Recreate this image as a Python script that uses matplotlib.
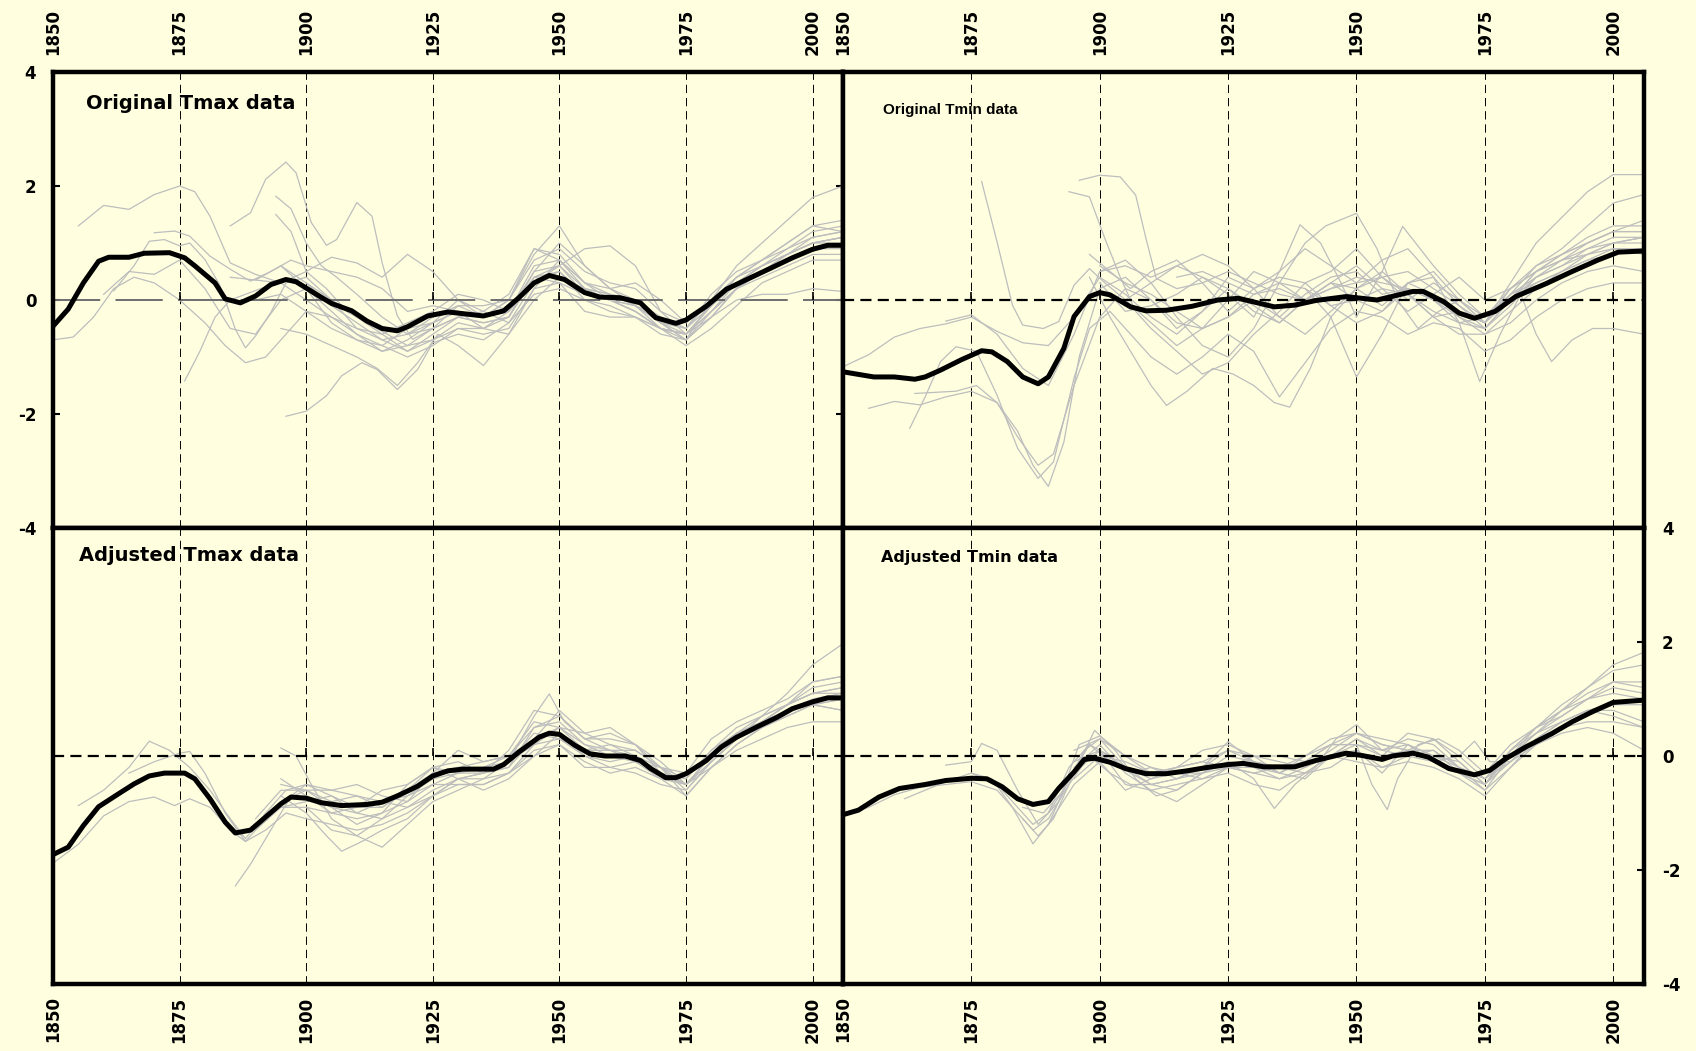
import matplotlib.pyplot as plt

plt.rcParams['lines.scale_dashes'] = False
plt.rcParams['font.family'] = 'DejaVu Sans'
plt.rcParams['font.weight'] = 'bold'

BG = '#FFFFE0'
GREY = '#BDBDBD'

year_ticks = [1850, 1875, 1900, 1925, 1950, 1975, 2000]
value_ticks = [-4, -2, 0, 2, 4]

# ---------------- Original Tmax ----------------
tmax_orig_years = [1850, 1853, 1856, 1859, 1861, 1865, 1868, 1873, 1876, 1878, 1882, 1884, 1887,
                   1890, 1893, 1896, 1898, 1902, 1905, 1909, 1912, 1915, 1918, 1920, 1924, 1928,
                   1931, 1935, 1939, 1942, 1945, 1948, 1951, 1955, 1958, 1962, 1966, 1969, 1973,
                   1975, 1979, 1983, 1987, 1992, 1996, 2000, 2003, 2006]
tmax_orig_mean = [-0.46, -0.16, 0.30, 0.68, 0.75, 0.75, 0.82, 0.83, 0.74, 0.60, 0.30, 0.02, -0.05,
                  0.07, 0.27, 0.36, 0.32, 0.10, -0.06, -0.19, -0.37, -0.50, -0.54, -0.47, -0.28, -0.21,
                  -0.24, -0.28, -0.19, 0.04, 0.30, 0.43, 0.36, 0.13, 0.05, 0.04, -0.05, -0.31, -0.41,
                  -0.35, -0.11, 0.19, 0.36, 0.57, 0.74, 0.89, 0.96, 0.96]
tmax_orig_stations = [
    ([1855, 1860, 1865, 1870, 1875, 1878, 1881, 1885, 1890, 1895],
     [1.30, 1.66, 1.59, 1.85, 2.00, 1.90, 1.47, 0.65, 0.45, 0.30]),
    ([1885, 1889, 1892, 1896, 1898, 1901, 1904, 1906, 1910, 1913, 1915, 1918, 1921, 1925, 1930, 1935,
      1940, 1945, 1950, 1955, 1960, 1965, 1970, 1975, 1980, 1985, 1990, 1995, 2000, 2006],
     [1.30, 1.53, 2.12, 2.42, 2.23, 1.36, 0.96, 1.06, 1.71, 1.47, 0.65, -0.28, -0.69, -0.5, -0.3, -0.2,
      0.1, 0.9, 0.8, 0.3, 0.2, -0.1, -0.5, -0.6, -0.1, 0.4, 0.7, 1.0, 1.3, 1.2]),
    ([1896, 1900, 1904, 1907, 1911, 1914, 1918, 1922, 1925, 1930, 1935, 1940, 1945, 1950, 1955, 1960,
      1965, 1970, 1975, 1980, 1985, 1990, 1995, 2000, 2006],
     [-2.04, -1.95, -1.68, -1.33, -1.10, -1.22, -1.57, -1.22, -0.75, -0.6, -0.7, -0.4, 0.3, 0.5, 0.0, -0.1,
      -0.3, -0.6, -0.7, -0.3, 0.2, 0.5, 0.8, 1.0, 1.1]),
    ([1850, 1854, 1858, 1862, 1866, 1870, 1875, 1880, 1884, 1888, 1892, 1896, 1900, 1905, 1910, 1915,
      1920, 1925, 1930, 1935, 1940, 1945, 1950, 1955, 1960, 1965, 1970, 1975, 1980, 1985, 1990, 1995,
      2000, 2006],
     [-0.70, -0.65, -0.3, 0.2, 0.4, 0.3, 0.0, -0.4, -0.8, -1.1, -1.0, -0.6, -0.2, -0.3, -0.6, -0.9,
      -0.8, -0.5, -0.3, -0.4, -0.3, 0.5, 0.6, 0.1, 0.0, -0.2, -0.5, -0.6, -0.2, 0.2, 0.5, 0.7,
      0.9, 1.0]),
    ([1862, 1866, 1869, 1872, 1875, 1877, 1880, 1883, 1886, 1888, 1890, 1893, 1896, 1900, 1905, 1910,
      1915, 1920, 1925, 1930, 1935, 1940, 1945, 1950, 1955, 1960, 1965, 1970, 1975, 1980, 1985, 1990,
      1995, 2000, 2006],
     [0.16, 0.6, 1.03, 1.06, 0.95, 1.0, 0.71, 0.25, -0.51, -0.84, -0.63, -0.22, 0.3, 0.4, 0.0, -0.3,
      -0.6, -0.9, -0.7, -0.4, -0.5, -0.2, 0.6, 0.7, 0.3, 0.1, -0.1, -0.4, -0.5, -0.1, 0.3, 0.6,
      0.8, 1.1, 1.2]),
    ([1870, 1874, 1877, 1881, 1885, 1889, 1893, 1897, 1900, 1905, 1910, 1915, 1920, 1925, 1930, 1935,
      1940, 1945, 1950, 1955, 1960, 1965, 1970, 1975, 1980, 1985, 1990, 1995, 2000, 2006],
     [1.18, 1.21, 1.12, 0.77, 0.54, 0.33, 0.5, 0.7, 0.6, 0.5, 0.4, 0.2, -0.2, -0.1, -0.2, -0.3,
      0.0, 0.7, 0.9, 0.5, 0.3, 0.2, -0.2, -0.4, 0.0, 0.4, 0.6, 0.9, 1.2, 1.3]),
    ([1876, 1879, 1882, 1885, 1888, 1891, 1895, 1900, 1905, 1910, 1915, 1920, 1925, 1930, 1935, 1940,
      1945, 1950, 1955, 1960, 1965, 1970, 1975, 1980, 1985, 1990, 1995, 2000, 2006],
     [-1.42, -0.9, -0.3, 0.0, 0.1, 0.2, 0.3, 0.0, -0.3, -0.5, -0.7, -0.6, -0.3, -0.1, -0.3, -0.2,
      0.4, 0.5, 0.1, 0.0, -0.1, -0.3, -0.5, 0.0, 0.3, 0.5, 0.7, 0.9, 0.9]),
    ([1894, 1897, 1900, 1903, 1906, 1910, 1915, 1920, 1925, 1930, 1935, 1940, 1945, 1950, 1955, 1960,
      1965, 1970, 1975, 1980, 1985, 1990, 1995, 2000, 2006],
     [1.82, 1.6, 1.0, 0.6, 0.4, 0.1, -0.3, -0.6, -0.5, -0.1, -0.1, 0.0, 0.8, 1.3, 0.6, 0.2,
      0.0, -0.3, -0.5, 0.1, 0.5, 0.7, 1.0, 1.3, 1.4]),
    ([1894, 1897, 1900, 1904, 1908, 1912, 1916, 1920, 1925, 1930, 1935, 1940, 1945, 1950, 1955, 1960,
      1965, 1970, 1975, 1980, 1985, 1990, 1995, 2000, 2006],
     [1.5, 1.2, 0.5, 0.2, -0.2, -0.4, -0.6, -0.8, -0.7, -0.5, -0.6, -0.5, 0.2, 0.7, 0.3, 0.0,
      -0.1, -0.4, -0.7, -0.2, 0.2, 0.5, 0.7, 0.9, 1.0]),
    ([1890, 1895, 1900, 1905, 1910, 1915, 1920, 1925, 1930, 1935, 1940, 1945, 1950, 1955, 1960, 1965,
      1970, 1975, 1980, 1985, 1990, 1995, 2000, 2006],
     [0.35, 0.3, 0.5, 0.75, 0.65, 0.4, 0.8, 0.5, 0.0, -0.3, -0.2, 0.3, 0.6, 0.9, 0.95, 0.6,
      -0.2, -0.6, -0.2, 0.3, 0.6, 0.8, 1.0, 1.1]),
    ([1895, 1900, 1905, 1910, 1914, 1918, 1922, 1926, 1930, 1935, 1940, 1945, 1950, 1955, 1960, 1965,
      1970, 1975, 1980, 1985, 1990, 1995, 2000, 2006],
     [-0.5, -0.6, -0.8, -1.0, -1.2, -1.5, -1.1, -0.6, -0.8, -1.15, -0.6, 0.2, 0.3, -0.2, -0.3, -0.3,
      -0.5, -0.6, -0.3, 0.0, 0.1, 0.1, 0.2, 0.15]),
    ([1860, 1865, 1870, 1875, 1880, 1885, 1890, 1895, 1900, 1905, 1910, 1915, 1920, 1925, 1930, 1935,
      1940, 1945, 1950, 1955, 1960, 1965, 1970, 1975, 1980, 1985, 1990, 1995, 2000, 2006],
     [0.1, 0.5, 0.45, 0.7, 0.2, -0.5, -0.6, 0.0, 0.2, -0.4, -0.7, -0.8, -0.5, -0.4, -0.2, -0.5,
      -0.3, 0.4, 0.3, 0.1, 0.0, -0.2, -0.5, -0.6, -0.1, 0.3, 0.5, 0.8, 1.0, 1.0]),
    ([1890, 1895, 1900, 1905, 1910, 1915, 1920, 1925, 1930, 1935, 1940, 1945, 1950, 1955, 1960, 1965,
      1970, 1975, 1980, 1985, 1990, 1995, 2000, 2006],
     [0.0, 0.1, -0.2, -0.5, -0.7, -0.9, -0.7, -0.4, 0.0, -0.2, -0.4, 0.1, 0.2, 0.0, -0.2, -0.3,
      -0.5, -0.8, -0.5, -0.1, 0.3, 0.5, 0.7, 0.7]),
    ([1900, 1905, 1910, 1915, 1920, 1925, 1930, 1935, 1940, 1945, 1950, 1955, 1960, 1965, 1970, 1975,
      1980, 1985, 1990, 1995, 2000, 2006],
     [0.3, 0.0, -0.5, -0.6, -0.4, -0.2, 0.1, 0.0, -0.2, 0.5, 1.0, 0.6, 0.2, 0.3, 0.0, -0.4,
      0.0, 0.4, 0.7, 0.9, 1.1, 1.2]),
    ([1920, 1925, 1930, 1935, 1940, 1945, 1950, 1955, 1960, 1965, 1970, 1975, 1980, 1985, 1990, 1995,
      2000, 2006],
     [-0.6, -0.4, -0.2, -0.3, 0.0, 0.9, 0.7, 0.2, 0.1, 0.0, -0.4, -0.7, 0.0, 0.6, 1.0, 1.4,
      1.8, 2.0]),
    ([1895, 1900, 1905, 1910, 1915, 1920, 1925, 1930, 1935, 1940, 1945, 1950, 1955, 1960, 1965, 1970,
      1975, 1980, 1985, 1990, 1995, 2000, 2006],
     [0.6, 0.3, -0.1, -0.4, -0.7, -0.9, -0.6, -0.3, -0.4, -0.3, 0.4, 0.6, 0.2, 0.1, 0.0, -0.4,
      -0.6, -0.1, 0.3, 0.6, 0.8, 1.0, 1.1]),
    ([1885, 1890, 1895, 1900, 1905, 1910, 1915, 1920, 1925, 1930, 1935, 1940, 1945, 1950, 1955, 1960,
      1965, 1970, 1975, 1980, 1985, 1990, 1995, 2000, 2006],
     [0.4, 0.35, 0.6, 0.2, -0.2, -0.6, -0.8, -1.0, -0.8, -0.5, -0.5, -0.6, 0.0, 0.4, 0.2, 0.0,
      -0.2, -0.5, -0.7, -0.3, 0.2, 0.4, 0.6, 0.8, 0.8]),
]

# ---------------- Original Tmin ----------------
tmin_orig_years = [1850, 1856, 1860, 1864, 1866, 1869, 1873, 1877, 1879, 1882, 1885, 1888, 1890,
                   1893, 1895, 1898, 1900, 1902, 1906, 1909, 1913, 1918, 1923, 1927, 1934, 1938,
                   1942, 1948, 1954, 1961, 1963, 1967, 1970, 1973, 1977, 1981, 1987, 1992, 1997,
                   2001, 2006]
tmin_orig_mean = [-1.26, -1.35, -1.35, -1.39, -1.35, -1.23, -1.05, -0.89, -0.91, -1.08, -1.35, -1.47, -1.35,
                  -0.85, -0.29, 0.06, 0.13, 0.09, -0.12, -0.19, -0.18, -0.11, 0.0, 0.03, -0.12, -0.09,
                  -0.01, 0.06, 0.0, 0.15, 0.15, -0.03, -0.23, -0.32, -0.20, 0.06, 0.29, 0.50, 0.70,
                  0.84, 0.86]
tmin_orig_stations = [
    ([1850, 1855, 1860, 1865, 1870, 1875, 1880, 1885, 1890, 1895, 1900, 1905, 1910, 1915, 1920, 1925,
      1930, 1935, 1940, 1945, 1950, 1955, 1960, 1965, 1970, 1975, 1980, 1985, 1990, 1995, 2000, 2006],
     [-1.17, -0.96, -0.65, -0.5, -0.42, -0.3, -0.55, -0.75, -0.8, -0.3, 0.4, 0.1, -0.3, -0.6, -0.2, 0.2,
      -0.1, -0.4, 0.0, 0.3, 0.2, -0.1, 0.3, 0.1, -0.3, -0.5, 0.0, 0.4, 0.7, 1.0, 1.2, 1.2]),
    ([1855, 1860, 1865, 1870, 1875, 1880, 1884, 1888, 1891, 1895, 1900, 1905, 1910, 1915, 1920, 1925,
      1930, 1935, 1940, 1945, 1950, 1955, 1960, 1965, 1970, 1975, 1980, 1985, 1990, 1995, 2000, 2006],
     [-1.9, -1.78, -1.84, -1.7, -1.6, -1.8, -2.4, -2.9, -2.7, -1.5, -0.3, 0.2, 0.0, -0.4, -0.5, -0.3,
      0.1, 0.3, 0.2, -0.1, 0.0, 0.2, 0.1, -0.2, -0.4, -0.5, 0.0, 0.5, 0.8, 1.1, 1.3, 1.3]),
    ([1877, 1880, 1883, 1885, 1889, 1892, 1895, 1898, 1901, 1905, 1910, 1915, 1920, 1925, 1930, 1935,
      1940, 1945, 1950, 1955, 1960, 1965, 1970, 1975, 1980, 1985, 1990, 1995, 2000, 2006],
     [2.08, 1.02, -0.09, -0.44, -0.5, -0.38, 0.26, 0.55, 0.3, 0.0, -0.4, -0.8, -0.5, 0.0, 0.5, 0.3,
      0.0, 0.3, 0.6, 0.2, -0.2, 0.1, 0.4, 0.0, 0.2, 0.5, 0.7, 0.8, 1.0, 1.1]),
    ([1894, 1898, 1901, 1904, 1907, 1910, 1915, 1920, 1925, 1930, 1935, 1940, 1945, 1950, 1955, 1960,
      1965, 1970, 1975, 1980, 1985, 1990, 1995, 2000, 2006],
     [1.90, 1.81, 1.08, 0.4, -0.2, -0.5, -0.9, -1.3, -1.1, -0.6, -0.2, 0.3, 0.5, 0.9, 0.4, 0.0,
      0.3, 0.0, -0.4, 0.2, 0.6, 0.8, 1.0, 1.2, 1.4]),
    ([1896, 1900, 1904, 1907, 1909, 1911, 1915, 1920, 1925, 1930, 1935, 1940, 1945, 1950, 1955, 1960,
      1965, 1970, 1975, 1980, 1985, 1990, 1995, 2000, 2006],
     [2.1, 2.19, 2.16, 1.84, 1.08, 0.38, 0.2, 0.3, 0.5, 0.3, 0.1, 0.0, 0.2, 0.4, 0.3, 0.2,
      0.0, -0.2, -0.4, 0.3, 1.0, 1.45, 1.9, 2.2, 2.2]),
    ([1863, 1866, 1869, 1872, 1876, 1880, 1884, 1888, 1891, 1895, 1898, 1902, 1906, 1910, 1915, 1920,
      1925, 1930, 1935, 1940, 1945, 1950, 1955, 1960, 1965, 1970, 1975, 1980, 1985, 1990, 1995, 2000,
      2006],
     [-2.25, -1.7, -1.08, -0.82, -0.9, -1.67, -2.6, -3.13, -2.84, -1.37, -0.5, -0.2, -0.6, -1.0, -1.3, -1.0,
      -0.6, -0.9, -1.7, -1.1, -0.5, -0.2, -0.3, -0.6, -0.4, -0.5, -0.9, -0.7, -0.3, 0.0, 0.2, 0.3,
      0.3]),
    ([1864, 1868, 1872, 1876, 1880, 1884, 1887, 1890, 1893, 1896, 1900, 1905, 1910, 1915, 1920, 1925,
      1930, 1935, 1940, 1945, 1950, 1955, 1960, 1965, 1970, 1975, 1980, 1985, 1990, 1995, 2000, 2006],
     [-1.64, -1.62, -1.6, -1.5, -1.8, -2.3, -2.9, -3.27, -2.5, -1.0, 0.2, 0.4, 0.0, -0.5, -0.2, 0.4,
      0.2, -0.3, 0.1, 0.4, 0.5, 0.1, 0.2, 0.0, -0.3, -0.6, -0.2, 0.2, 0.5, 0.8, 0.9, 0.8]),
    ([1870, 1875, 1880, 1885, 1890, 1895, 1900, 1905, 1910, 1915, 1920, 1925, 1930, 1935, 1940, 1945,
      1950, 1955, 1960, 1965, 1970, 1975, 1980, 1985, 1990, 1995, 2000, 2006],
     [-0.37, -0.26, -0.6, -1.2, -1.5, -0.6, 0.5, 0.6, 0.4, 0.6, 0.8, 0.6, 0.2, 0.5, 0.9, 0.6,
      0.3, 0.7, 0.9, 0.4, -0.1, -0.5, -0.1, 0.4, 0.6, 0.8, 1.0, 1.0]),
    ([1898, 1902, 1906, 1910, 1913, 1917, 1922, 1926, 1930, 1934, 1937, 1941, 1945, 1950, 1955, 1960,
      1965, 1970, 1975, 1980, 1985, 1990, 1995, 2000, 2006],
     [0.4, -0.3, -0.9, -1.5, -1.85, -1.6, -1.2, -1.3, -1.5, -1.8, -1.88, -1.2, -0.3, 0.2, 0.5, 0.1,
      -0.3, -0.6, -0.6, -0.4, 0.0, 0.3, 0.5, 0.6, 0.5]),
    ([1900, 1905, 1910, 1915, 1920, 1925, 1930, 1935, 1940, 1944, 1950, 1954, 1958, 1962, 1966, 1970,
      1975, 1980, 1985, 1990, 1995, 2000, 2006],
     [0.5, 0.7, 0.3, -0.3, -0.8, -1.0, -0.5, 0.3, 1.0, 1.3, 1.52, 0.9, 0.0, -0.5, -0.2, 0.0,
      -0.3, 0.0, 0.3, 0.5, 0.7, 0.9, 0.9]),
    ([1905, 1910, 1915, 1920, 1925, 1930, 1935, 1939, 1943, 1947, 1950, 1955, 1959, 1965, 1970, 1975,
      1980, 1985, 1990, 1995, 2000, 2006],
     [0.0, 0.3, 0.6, 0.4, 0.1, -0.3, 0.5, 1.32, 1.0, 0.3, -0.3, 0.5, 1.29, 0.6, 0.1, -0.3,
      0.2, 0.5, 0.7, 0.9, 1.1, 1.1]),
    ([1940, 1945, 1950, 1955, 1960, 1965, 1970, 1974, 1978, 1982, 1985, 1988, 1992, 1996, 2000, 2006],
     [0.2, -0.3, -1.35, -0.6, 0.3, 0.4, -0.4, -1.43, -0.6, 0.1, -0.6, -1.08, -0.7, -0.5, -0.5, -0.6]),
    ([1915, 1920, 1925, 1930, 1935, 1940, 1945, 1950, 1955, 1960, 1965, 1970, 1975, 1980, 1985, 1990,
      1995, 2000, 2006],
     [0.4, 0.5, 0.3, 0.1, 0.2, 0.0, 0.2, 0.3, 0.4, 0.5, 0.2, -0.1, -0.4, 0.1, 0.6, 0.9,
      1.3, 1.7, 1.85]),
    ([1900, 1905, 1910, 1915, 1920, 1925, 1930, 1935, 1940, 1945, 1950, 1955, 1960, 1965, 1970, 1975,
      1980, 1985, 1990, 1995, 2000, 2006],
     [0.3, -0.2, -0.1, 0.1, 0.4, 0.2, -0.2, -0.4, 0.0, 0.3, 0.0, -0.2, 0.2, 0.0, -0.4, -0.3,
      0.1, 0.3, 0.5, 0.7, 0.8, 0.9]),
    ([1900, 1905, 1910, 1915, 1920, 1925, 1930, 1935, 1940, 1945, 1950, 1955, 1960, 1965, 1970, 1975,
      1980, 1985, 1990, 1995, 2000, 2006],
     [0.6, 0.3, 0.1, -0.2, -0.5, -0.3, 0.0, -0.3, -0.6, -0.2, 0.2, 0.4, 0.1, -0.3, -0.2, -0.4,
      0.0, 0.5, 0.8, 1.0, 1.2, 1.2]),
    ([1898, 1902, 1906, 1910, 1915, 1920, 1925, 1930, 1935, 1940, 1945, 1950, 1955, 1960, 1965, 1970,
      1975, 1980, 1985, 1990, 1995, 2000, 2006],
     [0.8, 0.5, 0.2, 0.5, 0.7, 0.3, -0.2, 0.2, 0.4, 0.3, -0.1, -0.4, -0.2, 0.3, 0.5, 0.0,
      -0.4, 0.1, 0.4, 0.6, 0.9, 1.0, 1.1]),
]

# ---------------- Adjusted Tmax ----------------
tmax_adj_years = [1850, 1853, 1856, 1859, 1863, 1866, 1869, 1872, 1876, 1878, 1881, 1884, 1886,
                  1889, 1892, 1895, 1897, 1900, 1903, 1907, 1912, 1915, 1918, 1922, 1925, 1928,
                  1931, 1937, 1939, 1942, 1946, 1948, 1950, 1953, 1956, 1959, 1963, 1966, 1968,
                  1971, 1973, 1975, 1979, 1982, 1985, 1989, 1993, 1996, 2000, 2003, 2006]
tmax_adj_mean = [-1.73, -1.60, -1.22, -0.89, -0.66, -0.49, -0.35, -0.30, -0.30, -0.40, -0.75, -1.16, -1.35,
                 -1.30, -1.07, -0.84, -0.72, -0.74, -0.82, -0.87, -0.85, -0.81, -0.70, -0.53, -0.35, -0.26,
                 -0.23, -0.23, -0.15, 0.07, 0.33, 0.40, 0.38, 0.19, 0.04, 0.0, 0.0, -0.08, -0.22,
                 -0.38, -0.38, -0.31, -0.08, 0.16, 0.33, 0.51, 0.68, 0.83, 0.95, 1.02, 1.02]
tmax_adj_stations = [
    ([1850, 1855, 1860, 1865, 1870, 1874, 1877, 1881, 1885, 1888, 1892, 1896, 1900, 1905, 1910, 1915,
      1920, 1925, 1930, 1935, 1940, 1945, 1950, 1955, 1960, 1965, 1970, 1975, 1980, 1985, 1990, 1995,
      2000, 2006],
     [-1.88, -1.55, -1.05, -0.8, -0.72, -0.87, -0.75, -0.9, -1.3, -1.5, -1.3, -1.0, -1.1, -1.2, -1.3, -1.2,
      -1.0, -0.7, -0.5, -0.5, -0.3, 0.0, 0.2, -0.1, -0.3, -0.2, -0.4, -0.5, -0.2, 0.1, 0.3, 0.5,
      0.6, 0.6]),
    ([1855, 1860, 1865, 1869, 1873, 1877, 1881, 1885, 1888, 1892, 1896, 1900, 1905, 1910, 1915, 1920,
      1925, 1930, 1935, 1940, 1945, 1950, 1955, 1960, 1965, 1970, 1975, 1980, 1985, 1990, 1995, 2000,
      2006],
     [-0.87, -0.6, -0.2, 0.26, 0.1, -0.2, -0.6, -1.1, -1.45, -1.0, -0.6, -0.5, -0.7, -0.9, -0.9, -0.6,
      -0.3, -0.2, -0.1, 0.0, 0.6, 0.5, 0.1, 0.2, 0.0, -0.3, -0.5, 0.0, 0.4, 0.6, 0.9, 1.3,
      1.4]),
    ([1865, 1870, 1875, 1877, 1880, 1884, 1888, 1891, 1895, 1900, 1905, 1910, 1915, 1920, 1925, 1930,
      1935, 1940, 1945, 1950, 1955, 1960, 1965, 1970, 1975, 1980, 1985, 1990, 1995, 2000, 2006],
     [-0.3, -0.1, 0.05, 0.08, -0.3, -1.0, -1.5, -1.2, -0.8, -0.6, -0.9, -1.2, -1.0, -0.5, -0.2, -0.4,
      -0.3, 0.1, 0.8, 0.7, 0.3, 0.1, 0.1, -0.2, -0.6, -0.1, 0.3, 0.6, 0.9, 1.2, 1.3]),
    ([1886, 1889, 1893, 1897, 1900, 1905, 1910, 1915, 1920, 1925, 1930, 1935, 1940, 1945, 1950, 1955,
      1960, 1965, 1970, 1975, 1980, 1985, 1990, 1995, 2000, 2006],
     [-2.28, -1.9, -1.3, -0.7, -0.5, -0.6, -0.7, -0.8, -0.9, -0.7, -0.4, -0.3, -0.2, 0.5, 0.6, 0.2,
      0.1, 0.0, -0.3, -0.5, -0.1, 0.3, 0.7, 1.1, 1.6, 1.97]),
    ([1895, 1898, 1901, 1905, 1910, 1915, 1920, 1925, 1930, 1935, 1940, 1945, 1948, 1951, 1955, 1960,
      1965, 1970, 1975, 1980, 1985, 1990, 1995, 2000, 2006],
     [0.14, 0.0, -0.5, -1.1, -1.4, -1.6, -1.2, -0.8, -0.6, -0.4, -0.1, 0.7, 1.09, 0.6, 0.3, 0.4,
      0.2, -0.2, -0.7, -0.2, 0.2, 0.5, 0.7, 0.9, 1.0]),
    ([1895, 1900, 1904, 1907, 1911, 1915, 1920, 1925, 1930, 1935, 1940, 1945, 1950, 1955, 1960, 1965,
      1970, 1975, 1980, 1985, 1990, 1995, 2000, 2006],
     [-0.7, -1.0, -1.4, -1.67, -1.5, -1.3, -1.1, -0.7, -0.4, -0.4, -0.3, 0.2, 0.3, 0.0, -0.2, -0.3,
      -0.5, -0.6, -0.1, 0.3, 0.6, 0.9, 1.1, 1.2]),
    ([1890, 1895, 1900, 1905, 1910, 1915, 1920, 1925, 1930, 1935, 1940, 1945, 1950, 1955, 1960, 1965,
      1970, 1975, 1980, 1985, 1990, 1995, 2000, 2006],
     [-1.1, -0.6, -0.6, -0.8, -0.7, -0.9, -0.6, -0.2, -0.1, -0.3, -0.2, 0.3, 0.5, 0.4, 0.5, 0.2,
      -0.3, -0.4, 0.1, 0.4, 0.6, 0.8, 0.9, 0.8]),
    ([1890, 1895, 1900, 1905, 1910, 1915, 1920, 1925, 1930, 1935, 1940, 1945, 1950, 1955, 1960, 1965,
      1970, 1975, 1980, 1985, 1990, 1995, 2000, 2006],
     [-1.3, -0.9, -0.9, -1.0, -1.1, -1.0, -0.8, -0.5, -0.5, -0.5, -0.3, 0.1, 0.2, -0.2, -0.2, -0.1,
      -0.4, -0.7, -0.2, 0.2, 0.5, 0.8, 1.0, 1.1]),
    ([1895, 1900, 1905, 1910, 1915, 1920, 1925, 1930, 1935, 1940, 1945, 1950, 1955, 1960, 1965, 1970,
      1975, 1980, 1985, 1990, 1995, 2000, 2006],
     [-0.5, -0.6, -0.6, -0.5, -0.7, -0.8, -0.3, 0.1, -0.1, 0.0, 0.3, 0.8, 0.4, 0.2, 0.1, -0.2,
      -0.3, 0.3, 0.6, 0.8, 1.0, 1.3, 1.4]),
    ([1900, 1905, 1910, 1915, 1920, 1925, 1930, 1935, 1940, 1945, 1950, 1955, 1960, 1965, 1970, 1975,
      1980, 1985, 1990, 1995, 2000, 2006],
     [-0.9, -1.3, -1.4, -1.1, -0.9, -0.6, -0.4, -0.6, -0.4, 0.0, 0.4, 0.0, -0.1, 0.0, -0.2, -0.4,
      0.1, 0.5, 0.7, 0.9, 1.1, 1.1]),
    ([1900, 1905, 1910, 1915, 1920, 1925, 1930, 1935, 1940, 1945, 1950, 1955, 1960, 1965, 1970, 1975,
      1980, 1985, 1990, 1995, 2000, 2006],
     [-0.7, -0.9, -1.0, -0.8, -0.7, -0.4, -0.3, -0.2, -0.1, 0.4, 0.3, 0.1, 0.1, -0.1, -0.3, -0.5,
      0.0, 0.3, 0.6, 0.8, 0.9, 0.8]),
    ([1895, 1900, 1905, 1910, 1915, 1920, 1925, 1930, 1935, 1940, 1945, 1950, 1955, 1960, 1965, 1970,
      1975, 1980, 1985, 1990, 1995, 2000, 2006],
     [-0.4, -0.7, -1.0, -0.9, -0.6, -0.5, -0.2, -0.3, -0.2, 0.0, 0.5, 0.7, 0.3, 0.3, 0.2, -0.1,
      -0.5, 0.0, 0.4, 0.7, 0.9, 1.1, 1.2]),
    ([1895, 1900, 1905, 1910, 1915, 1920, 1925, 1930, 1935, 1940, 1945, 1950, 1955, 1960, 1965, 1970,
      1975, 1980, 1985, 1990, 1995, 2000, 2006],
     [-0.9, -0.8, -0.7, -1.0, -1.1, -0.7, -0.5, -0.3, -0.3, -0.1, 0.2, 0.5, 0.2, 0.0, -0.1, -0.2,
      -0.5, -0.1, 0.3, 0.5, 0.7, 0.9, 1.0]),
]

# ---------------- Adjusted Tmin ----------------
tmin_adj_years = [1850, 1853, 1857, 1861, 1866, 1870, 1875, 1878, 1881, 1884, 1887, 1890, 1892,
                  1895, 1897, 1899, 1902, 1905, 1909, 1913, 1917, 1921, 1925, 1928, 1932, 1938,
                  1942, 1948, 1951, 1955, 1957, 1961, 1964, 1968, 1973, 1976, 1979, 1983, 1988,
                  1992, 1996, 2000, 2006]
tmin_adj_mean = [-1.03, -0.95, -0.72, -0.57, -0.50, -0.43, -0.39, -0.40, -0.54, -0.75, -0.85, -0.80, -0.57,
                 -0.28, -0.06, -0.04, -0.11, -0.22, -0.31, -0.31, -0.26, -0.20, -0.15, -0.13, -0.19, -0.19,
                 -0.08, 0.05, 0.01, -0.06, 0.0, 0.05, -0.02, -0.22, -0.33, -0.25, -0.05, 0.16, 0.39,
                 0.60, 0.78, 0.94, 0.98]
tmin_adj_stations = [
    ([1850, 1855, 1860, 1865, 1870, 1875, 1880, 1884, 1887, 1890, 1894, 1898, 1902, 1906, 1910, 1915,
      1920, 1925, 1930, 1935, 1940, 1945, 1950, 1955, 1960, 1965, 1970, 1975, 1980, 1985, 1990, 1995,
      2000, 2006],
     [-1.05, -0.9, -0.68, -0.55, -0.5, -0.45, -0.6, -1.0, -1.3, -1.1, -0.5, 0.0, -0.3, -0.5, -0.5, -0.4,
      -0.3, -0.2, -0.3, -0.4, -0.2, 0.0, -0.1, -0.2, 0.0, -0.1, -0.3, -0.5, -0.1, 0.3, 0.6, 0.8,
      0.9, 0.9]),
    ([1862, 1866, 1870, 1875, 1879, 1883, 1887, 1890, 1894, 1898, 1902, 1906, 1910, 1915, 1920, 1925,
      1930, 1934, 1938, 1942, 1946, 1950, 1955, 1960, 1965, 1970, 1975, 1980, 1985, 1990, 1995, 2000,
      2006],
     [-0.75, -0.6, -0.45, -0.3, -0.4, -0.9, -1.54, -1.2, -0.4, 0.2, 0.0, -0.3, -0.5, -0.6, -0.3, -0.1,
      -0.4, -0.92, -0.5, -0.2, 0.3, 0.55, 0.1, 0.2, 0.0, -0.2, -0.6, 0.0, 0.4, 0.8, 1.2, 1.6,
      1.82]),
    ([1870, 1875, 1877, 1880, 1884, 1888, 1892, 1896, 1900, 1905, 1910, 1915, 1920, 1925, 1930, 1935,
      1940, 1945, 1950, 1953, 1956, 1958, 1962, 1966, 1970, 1975, 1980, 1985, 1990, 1995, 2000, 2006],
     [-0.16, -0.1, 0.22, 0.1, -0.6, -1.2, -0.8, 0.2, 0.35, 0.0, -0.3, -0.2, 0.1, 0.2, 0.0, -0.3,
      0.0, 0.2, 0.2, -0.5, -0.94, -0.4, 0.2, 0.3, 0.1, -0.3, 0.2, 0.5, 0.7, 1.0, 1.3, 1.3]),
    ([1875, 1880, 1884, 1887, 1890, 1894, 1898, 1902, 1906, 1910, 1915, 1920, 1925, 1930, 1935, 1940,
      1945, 1950, 1955, 1960, 1965, 1970, 1975, 1980, 1985, 1990, 1995, 2000, 2006],
     [-0.3, -0.5, -0.9, -1.2, -1.0, -0.2, 0.2, -0.1, -0.3, -0.2, -0.3, -0.4, -0.2, -0.3, -0.2, -0.1,
      0.2, 0.4, 0.2, 0.1, 0.3, 0.0, -0.4, 0.0, 0.4, 0.7, 1.0, 1.2, 1.1]),
    ([1885, 1888, 1891, 1895, 1899, 1903, 1907, 1911, 1915, 1920, 1925, 1930, 1935, 1940, 1945, 1950,
      1955, 1960, 1965, 1970, 1975, 1980, 1985, 1990, 1995, 2000, 2006],
     [-1.1, -1.4, -1.1, -0.3, 0.45, 0.1, -0.4, -0.7, -0.6, -0.3, 0.0, -0.1, -0.3, -0.4, 0.0, 0.3,
      0.0, 0.4, 0.3, -0.1, -0.5, 0.0, 0.5, 0.8, 1.0, 1.1, 1.0]),
    ([1885, 1889, 1893, 1897, 1900, 1905, 1910, 1915, 1920, 1925, 1930, 1935, 1940, 1945, 1950, 1955,
      1960, 1965, 1970, 1975, 1980, 1985, 1990, 1995, 2000, 2006],
     [-0.9, -1.0, -0.6, 0.1, 0.3, -0.2, -0.5, -0.4, -0.2, 0.25, -0.1, -0.2, -0.3, -0.2, 0.1, -0.3,
      0.2, -0.1, -0.3, -0.5, 0.1, 0.4, 0.6, 0.8, 0.8, 0.6]),
    ([1895, 1900, 1905, 1910, 1915, 1920, 1925, 1930, 1935, 1940, 1945, 1950, 1955, 1960, 1965, 1970,
      1973, 1976, 1980, 1985, 1990, 1995, 2000, 2006],
     [-0.2, 0.2, -0.3, -0.6, -0.8, -0.5, -0.2, 0.0, -0.1, -0.2, 0.1, 0.4, 0.2, 0.1, -0.1, 0.0,
      0.26, -0.1, -0.1, 0.3, 0.5, 0.7, 0.9, 1.0]),
    ([1895, 1900, 1905, 1910, 1915, 1920, 1925, 1930, 1935, 1940, 1945, 1950, 1955, 1960, 1965, 1970,
      1975, 1980, 1985, 1990, 1995, 2000, 2006],
     [-0.1, 0.1, -0.5, -0.6, -0.5, -0.4, -0.3, -0.5, -0.6, -0.3, 0.0, 0.1, -0.2, -0.1, -0.2, -0.4,
      -0.7, -0.2, 0.2, 0.5, 0.6, 0.6, 0.5]),
    ([1890, 1895, 1900, 1905, 1910, 1915, 1920, 1925, 1930, 1935, 1940, 1945, 1950, 1955, 1960, 1965,
      1970, 1975, 1980, 1985, 1990, 1995, 2000, 2006],
     [-1.2, -0.5, -0.1, -0.6, -0.4, -0.2, -0.1, 0.1, 0.0, 0.0, -0.1, 0.0, 0.3, 0.1, 0.3, 0.2,
      -0.2, -0.4, 0.1, 0.5, 0.9, 1.2, 1.5, 1.6]),
    ([1895, 1900, 1905, 1910, 1915, 1920, 1925, 1930, 1935, 1940, 1945, 1950, 1955, 1960, 1965, 1970,
      1975, 1980, 1985, 1990, 1995, 2000, 2006],
     [-0.4, 0.0, -0.1, -0.3, -0.2, -0.1, -0.2, -0.2, -0.3, -0.1, 0.2, 0.2, 0.0, 0.1, 0.1, -0.2,
      -0.4, -0.1, 0.2, 0.4, 0.5, 0.4, 0.1]),
    ([1895, 1900, 1905, 1910, 1915, 1920, 1925, 1930, 1935, 1940, 1945, 1950, 1955, 1960, 1965, 1970,
      1975, 1980, 1985, 1990, 1995, 2000, 2006],
     [0.1, 0.3, 0.0, -0.2, -0.4, -0.2, 0.1, -0.1, -0.2, 0.0, 0.3, 0.4, 0.3, 0.2, 0.0, -0.1,
      -0.5, 0.1, 0.5, 0.8, 1.1, 1.3, 1.2]),
    ([1890, 1895, 1900, 1905, 1910, 1915, 1920, 1925, 1930, 1935, 1940, 1945, 1950, 1955, 1960, 1965,
      1970, 1975, 1980, 1985, 1990, 1995, 2000, 2006],
     [-1.0, -0.3, 0.1, -0.2, -0.4, -0.3, -0.3, -0.1, -0.2, -0.4, -0.3, 0.0, 0.2, 0.1, 0.0, 0.1,
      -0.3, -0.6, -0.2, 0.3, 0.6, 0.8, 0.7, 0.5]),
]

# ---------------- figure ----------------
fig = plt.figure(figsize=(16.96, 10.51), dpi=100, facecolor=BG)

x0, xm, x1 = 53 / 1696, 843 / 1696, 1644 / 1696
y_top, y_mid, y_bot = 1 - 72 / 1051, 1 - 528 / 1051, 1 - 984 / 1051

ax_tl = fig.add_axes([x0, y_mid, xm - x0, y_top - y_mid])
ax_tr = fig.add_axes([xm, y_mid, x1 - xm, y_top - y_mid])
ax_bl = fig.add_axes([x0, y_bot, xm - x0, y_mid - y_bot])
ax_br = fig.add_axes([xm, y_bot, x1 - xm, y_mid - y_bot])


def draw_panel(ax, years, mean, stations, top):
    ax.set_facecolor(BG)
    ax.set_xlim(1850, 2006)
    ax.set_ylim(-4, 4)
    for yrs, vals in stations:
        ax.plot(yrs, vals, color=GREY, lw=0.9, zorder=2)
    ax.plot(years, mean, color='black', lw=3.6, zorder=5, solid_joinstyle='round')
    for yr in year_ticks[1:]:
        ax.axvline(yr, color='black', lw=0.7, dashes=(6, 3.5), zorder=1)
    # little year marks standing on the zero line
    ax.vlines(year_ticks[1:], 0, 0.14, color='black', lw=1.2, zorder=4)
    for sp in ax.spines.values():
        sp.set_linewidth(3.2)
        sp.set_zorder(6)
    ax.set_xticks(year_ticks)
    ax.set_xticklabels([str(y) for y in year_ticks])
    ax.set_yticks(value_ticks)
    ax.set_yticklabels([str(v) for v in value_ticks])
    ax.tick_params(axis='x', top=False, bottom=False, labeltop=top, labelbottom=not top,
                   length=0, pad=12 if top else 9, labelrotation=90, labelsize=12)
    ax.tick_params(axis='y', left=False, right=False, labelleft=False, labelright=False,
                   labelsize=12)


draw_panel(ax_tl, tmax_orig_years, tmax_orig_mean, tmax_orig_stations, True)
draw_panel(ax_tr, tmin_orig_years, tmin_orig_mean, tmin_orig_stations, True)
draw_panel(ax_bl, tmax_adj_years, tmax_adj_mean, tmax_adj_stations, False)
draw_panel(ax_br, tmin_adj_years, tmin_adj_mean, tmin_adj_stations, False)

# zero lines
ax_tl.axhline(0, color='#6E6E6E', lw=1.4, dashes=(34, 11), zorder=3)
for ax in (ax_tr, ax_bl, ax_br):
    ax.axhline(0, color='black', lw=1.6, dashes=(8, 4.5), zorder=3)

# y axes
ax_tl.tick_params(axis='y', left=True, right=True, labelleft=True,
                  direction='in', length=5, width=1.5, pad=12)
ax_br.tick_params(axis='y', right=True, labelright=True,
                  direction='in', length=5, width=1.5, pad=13)

# titles
ax_tl.text(0.042, 0.93, 'Original Tmax data', transform=ax_tl.transAxes, fontsize=14,
           va='center', ha='left')
ax_tr.text(0.05, 0.917, 'Original Tmin data', transform=ax_tr.transAxes, fontsize=11,
           va='center', ha='left', family='Liberation Sans')
ax_bl.text(0.033, 0.939, 'Adjusted Tmax data', transform=ax_bl.transAxes, fontsize=14,
           va='center', ha='left')
ax_br.text(0.047, 0.936, 'Adjusted Tmin data', transform=ax_br.transAxes, fontsize=11.5,
           va='center', ha='left')

fig.savefig('out.png', dpi=100, facecolor=BG)
